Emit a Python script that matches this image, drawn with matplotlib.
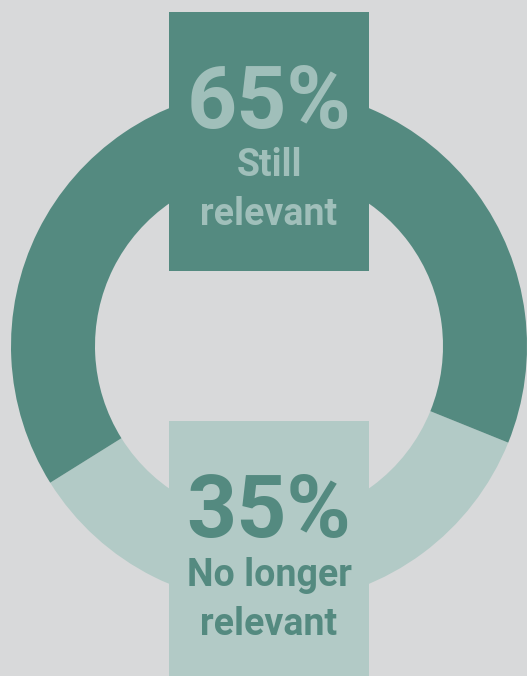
import matplotlib.pyplot as plt
from matplotlib.patches import Rectangle

labels = ["No longer\nrelevant", "Still\nrelevant"]
shares = [35, 65]
pct_labels = ["35%", "65%"]

dark = "#548a80"
light = "#b2cac6"
bg = "#d8d9da"
top_text = "#a0bfba"

W, H = 527, 676
fig = plt.figure(figsize=(W / 100, H / 100), dpi=100)
fig.patch.set_facecolor(bg)
ax = fig.add_axes([0, 0, 1, 1])
ax.set_facecolor(bg)

# donut ring
ax.pie(
    shares,
    colors=[light, dark],
    startangle=-148,
    counterclock=True,
    center=(269, 330),
    radius=258,
    wedgeprops=dict(width=84, linewidth=0),
)

# label boxes
ax.add_patch(Rectangle((169, 405), 200, 259, facecolor=dark, edgecolor="none", zorder=3))
ax.add_patch(Rectangle((169, 0), 200, 255, facecolor=light, edgecolor="none", zorder=3))

font = "Roboto"
ax.text(269, 572, pct_labels[1], ha="center", va="center", fontsize=63,
        fontweight="bold", color=top_text, family=font, zorder=4)
ax.text(269, 486, labels[1], ha="center", va="center", fontsize=27,
        fontweight="bold", color=top_text, family=font, linespacing=1.42, zorder=4)

ax.text(269, 163, pct_labels[0], ha="center", va="center", fontsize=63,
        fontweight="bold", color=dark, family=font, zorder=4)
ax.text(269, 76, labels[0], ha="center", va="center", fontsize=27,
        fontweight="bold", color=dark, family=font, linespacing=1.42, zorder=4)

ax.set_xlim(0, W)
ax.set_ylim(0, H)
ax.set_aspect("auto")
ax.axis("off")

plt.savefig("out.png", dpi=100, facecolor=bg)
plt.close()
